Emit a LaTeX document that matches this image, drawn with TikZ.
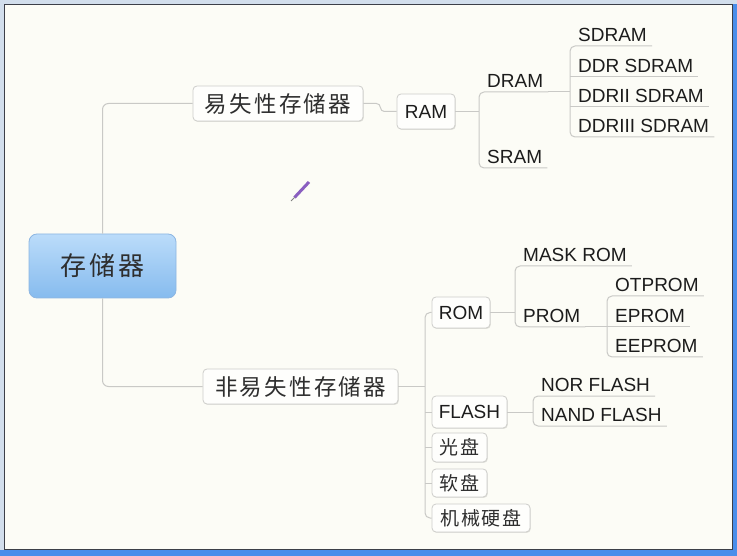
\documentclass[tikz,border=0pt]{standalone}
\usepackage{fontspec}
\setmainfont{Liberation Sans}
\newfontfamily\cjk{Noto Sans CJK SC}[LetterSpace=10]
\usetikzlibrary{shadows}
\definecolor{bg}{HTML}{FCFCF6}
\definecolor{frameblue}{HTML}{4A8EEA}
\definecolor{framelight}{HTML}{D2DEEC}
\definecolor{framedark}{HTML}{3C3F48}
\definecolor{conncol}{HTML}{C9C9C6}
\definecolor{boxline}{HTML}{CDCDCA}
\definecolor{boxfill}{HTML}{FEFEFC}
\definecolor{txt}{HTML}{1C1C1C}
\definecolor{cjktxt}{HTML}{2E2E2E}
\definecolor{roottop}{HTML}{BBDCFA}
\definecolor{rootbot}{HTML}{86BBEE}
\definecolor{rootline}{HTML}{8DB6E2}
\definecolor{pencol}{HTML}{8A5FC0}
\tikzset{
  conn/.style={draw=conncol, line width=1pt},
  box/.style={draw=boxline, fill=boxfill, rounded corners=4pt, inner sep=0pt,
    line width=0.8pt, text=txt,
    drop shadow={shadow xshift=0.8pt, shadow yshift=-0.9pt, opacity=0.10, fill=black}},
  latbox/.style={box, font=\fontsize{19}{21}\selectfont},
  cjkbox/.style={box, text=cjktxt, font=\cjk\fontsize{22.5}{24}\selectfont},
  cjksmall/.style={box, text=cjktxt, font=\cjk\fontsize{19}{21}\selectfont},
  rootbox/.style={draw=rootline, rounded corners=8pt, top color=roottop, bottom color=rootbot,
    inner sep=0pt, line width=0.8pt, text=cjktxt, font=\cjk\fontsize{26}{28}\selectfont},
  ul/.style={anchor=south west, inner xsep=0pt, inner ysep=4pt, text depth=0pt,
    text=txt, font=\fontsize{19}{21}\selectfont},
}
\newcommand{\ut}[1]{\hspace*{8pt}#1\hspace*{5pt}}
\begin{document}
\begin{tikzpicture}[x=1pt,y=-1pt]
% frame
\fill[frameblue] (0,0) rectangle (737,556);
\fill[framelight] (0,0) rectangle (737,4);
\fill[framelight] (0,0) rectangle (4,550);
\fill[bg, draw=framedark, line width=1.2pt] (4.6,4.6) rectangle (732.4,549.4);
\useasboundingbox (0,0) rectangle (737,556);

% main nodes
\node[rootbox, minimum width=147pt, minimum height=64pt] (root) at (102.5,266) {存储器};
\node[cjkbox, minimum width=170pt, minimum height=35pt] (vol) at (278,103.5) {易失性存储器};
\node[latbox, minimum width=58pt, minimum height=35pt] (ram) at (426,111.5) {RAM};
\node[cjkbox, minimum width=195pt, minimum height=35pt] (nonvol) at (300.5,386.5) {非易失性存储器};
\node[latbox, minimum width=58pt, minimum height=31pt] (rom) at (461,312.5) {ROM};
\node[latbox, minimum width=75pt, minimum height=32pt] (flash) at (469.5,412) {FLASH};
\node[cjksmall, minimum width=55pt, minimum height=29pt] (cd) at (459.5,447.5) {光盘};
\node[cjksmall, minimum width=55pt, minimum height=28pt] (fd) at (459.5,483) {软盘};
\node[cjksmall, minimum width=98pt, minimum height=28pt] (hdd) at (481,518) {机械硬盘};

% underline topics
\node[ul] (dram) at (479,92) {\ut{DRAM}};
\node[ul] (sram) at (479,168) {\ut{SRAM}};
\node[ul] (sdram) at (570,46) {\ut{SDRAM}};
\node[ul] (ddr) at (570,77) {\ut{DDR SDRAM}};
\node[ul] (ddrii) at (570,107) {\ut{DDRII SDRAM}};
\node[ul] (ddriii) at (570,137) {\ut{DDRIII SDRAM}};
\node[ul] (mask) at (515,266) {\ut{MASK ROM}};
\node[ul] (prom) at (515,327) {\ut{PROM}};
\node[ul] (otp) at (607,296) {\ut{OTPROM}};
\node[ul] (ep) at (607,327) {\ut{EPROM}};
\node[ul] (eep) at (607,357) {\ut{EEPROM}};
\node[ul] (nor) at (533,396) {\ut{NOR FLASH}};
\node[ul] (nand) at (533,426) {\ut{NAND FLASH}};

% connectors
\draw[conn, rounded corners=6pt] (root.north) |- (vol.west);
\draw[conn, rounded corners=6pt] (root.south) |- (nonvol.west);
\draw[conn, rounded corners=4pt] (vol.east) -- ++(17,0) |- (ram.west);
\draw[conn] (ram.east) -- (ram.east -| dram.south west);
\draw[conn, rounded corners=5pt] (dram.south east) -- (dram.south west) -- (sram.south west) -- (sram.south east);
\draw[conn] (dram.south east) -- (sdram.south west |- dram.south);
\draw[conn, rounded corners=5pt] (sdram.south east) -- (sdram.south west) -- (ddriii.south west) -- (ddriii.south east);
\draw[conn] (ddr.south west) -- (ddr.south east);
\draw[conn] (ddrii.south west) -- (ddrii.south east);

\coordinate (nb) at (425,386.5);
\draw[conn] (nonvol.east) -- (nb);
\draw[conn, rounded corners=5pt] (rom.west) -- (rom.west -| nb) -- (hdd.west -| nb) -- (hdd.west);
\draw[conn, rounded corners=3pt] (flash.west -| nb) -- (flash.west);
\draw[conn] (cd.west -| nb) -- (cd.west);
\draw[conn] (fd.west -| nb) -- (fd.west);

\draw[conn] (rom.east) -- (rom.east -| mask.south west);
\draw[conn, rounded corners=5pt] (mask.south east) -- (mask.south west) -- (prom.south west) -- (prom.south east);
\draw[conn] (prom.south east) -- (otp.south west |- prom.south);
\draw[conn, rounded corners=5pt] (otp.south east) -- (otp.south west) -- (eep.south west) -- (eep.south east);
\draw[conn] (ep.south west) -- (ep.south east);

\draw[conn] (flash.east) -- (flash.east -| nor.south west);
\draw[conn, rounded corners=5pt] (nor.south east) -- (nor.south west) -- (nand.south west) -- (nand.south east);

% pencil cursor
\draw[pencol, line width=3pt] (294.5,197.5) -- (309,182);
\draw[gray, line width=1pt] (291,201) -- (294.5,197.5);
\end{tikzpicture}
\end{document}
